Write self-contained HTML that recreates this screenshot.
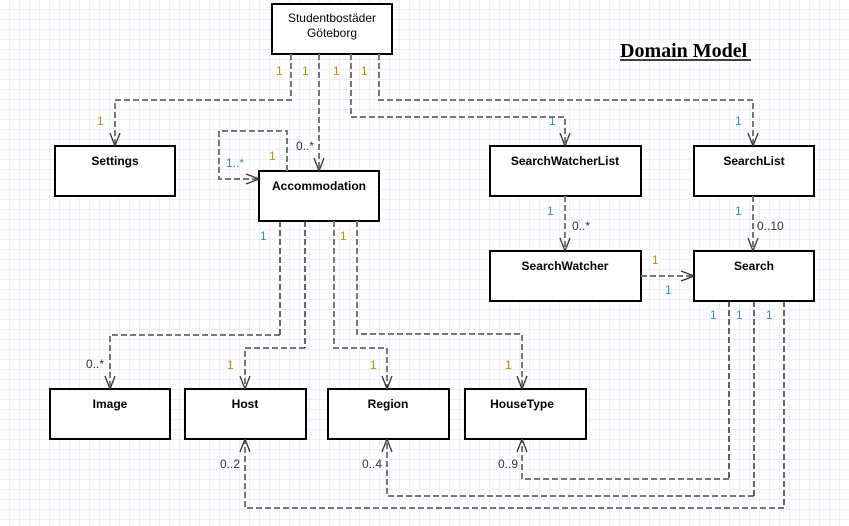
<!DOCTYPE html>
<html><head><meta charset="utf-8"><style>
html,body{margin:0;padding:0;background:#fff;}
svg{display:block;}
</style></head><body>
<svg width="849" height="526" xmlns="http://www.w3.org/2000/svg" font-family="Liberation Sans, Arial, sans-serif">
<defs>
<pattern id="g" width="10" height="10" patternUnits="userSpaceOnUse">
<path d="M10 0V10M0 10H10" stroke="#e2e2f6" stroke-width="1" fill="none"/>
</pattern>
</defs>
<rect width="849" height="526" fill="#fff"/>
<rect width="849" height="526" fill="url(#g)"/>

<g fill="#fff" stroke="#000" stroke-width="2">
<rect x="272" y="4" width="120" height="50"/>
<rect x="55" y="146" width="120" height="50"/>
<rect x="259" y="171" width="120" height="50"/>
<rect x="490" y="146" width="151" height="50"/>
<rect x="694" y="146" width="120" height="50"/>
<rect x="490" y="251" width="151" height="50"/>
<rect x="694" y="251" width="120" height="50"/>
<rect x="50" y="389" width="120" height="50"/>
<rect x="185" y="389" width="121" height="50"/>
<rect x="328" y="389" width="121" height="50"/>
<rect x="465" y="389" width="121" height="50"/>
</g>
<g font-size="12" text-anchor="middle" fill="#000">
<text x="332" y="22">Studentbostäder</text>
<text x="332" y="37">Göteborg</text>
<g font-weight="bold">
<text x="115" y="165">Settings</text>
<text x="319" y="190">Accommodation</text>
<text x="565" y="165">SearchWatcherList</text>
<text x="754" y="165">SearchList</text>
<text x="565" y="270">SearchWatcher</text>
<text x="754" y="270">Search</text>
<text x="110" y="408">Image</text>
<text x="245" y="408">Host</text>
<text x="388" y="408">Region</text>
<text x="522" y="408">HouseType</text>
</g>
</g>
<text x="620" y="57" font-family="Liberation Serif, serif" font-weight="bold" font-size="20">Domain Model</text>
<line x1="620" y1="60" x2="751" y2="60" stroke="#000" stroke-width="1.5"/>

<g fill="none" stroke="#777" stroke-width="2" stroke-dasharray="6,3">
<path d="M291 54V100H115V145"/>
<path d="M319 54V170"/>
<path d="M351 54V117H565V145"/>
<path d="M379 54V100H753V145"/>
<path d="M287 171V131H219V179H258"/>
<path d="M565 196V250"/>
<path d="M753 196V250"/>
<path d="M641 276H693"/>
<path d="M280 335H110V388"/>
<path d="M305 348H245V388"/>
<path d="M334 221V348H387V388"/>
<path d="M357 221V334H522V388"/>
<path d="M729 479H522V440"/>
<path d="M754 496H387V440"/>
<path d="M784 508H245V440"/>
</g>
<g fill="none" stroke="#000" stroke-width="1.2" stroke-dasharray="6,3">
<path d="M280 221V335"/>
<path d="M305 221V348"/>
<path d="M729 301V479"/>
<path d="M754 301V496"/>
<path d="M784 301V508"/>
</g>
<g fill="none" stroke="#333" stroke-width="1.3">
<path d="M110 133L115 146L120 133"/>
<path d="M314 158L319 171L324 158"/>
<path d="M560 133L565 146L570 133"/>
<path d="M748 133L753 146L758 133"/>
<path d="M246 174L259 179L246 184"/>
<path d="M560 238L565 251L570 238"/>
<path d="M748 238L753 251L758 238"/>
<path d="M681 271L694 276L681 281"/>
<path d="M105 376L110 389L115 376"/>
<path d="M240 376L245 389L250 376"/>
<path d="M382 376L387 389L392 376"/>
<path d="M517 376L522 389L527 376"/>
<path d="M517 452L522 439L527 452"/>
<path d="M382 452L387 439L392 452"/>
<path d="M240 452L245 439L250 452"/>
</g>

<g font-size="12">
<g fill="#c88a00">
<text x="276" y="75">1</text><text x="302" y="75">1</text><text x="333" y="75">1</text><text x="361" y="75">1</text>
<text x="97" y="125">1</text><text x="269" y="160">1</text>
<text x="340" y="240">1</text>
<text x="227" y="369">1</text><text x="370" y="369">1</text><text x="505" y="369">1</text>
<text x="652" y="264">1</text>
</g>
<g fill="#3a8ad0">
<text x="549" y="125">1</text><text x="735" y="125">1</text>
<text x="226" y="167">1..*</text>
<text x="547" y="215">1</text><text x="735" y="215">1</text>
<text x="665" y="294">1</text>
<text x="260" y="240">1</text>
<text x="710" y="319">1</text><text x="736" y="319">1</text><text x="766" y="319">1</text>
</g>
<g fill="#333">
<text x="296" y="150">0..*</text>
<text x="572" y="230">0..*</text>
<text x="757" y="230">0..10</text>
<text x="86" y="368">0..*</text>
<text x="220" y="468">0..2</text>
<text x="362" y="468">0..4</text>
<text x="498" y="468">0..9</text>
</g>
</g>
</svg>
</body></html>
